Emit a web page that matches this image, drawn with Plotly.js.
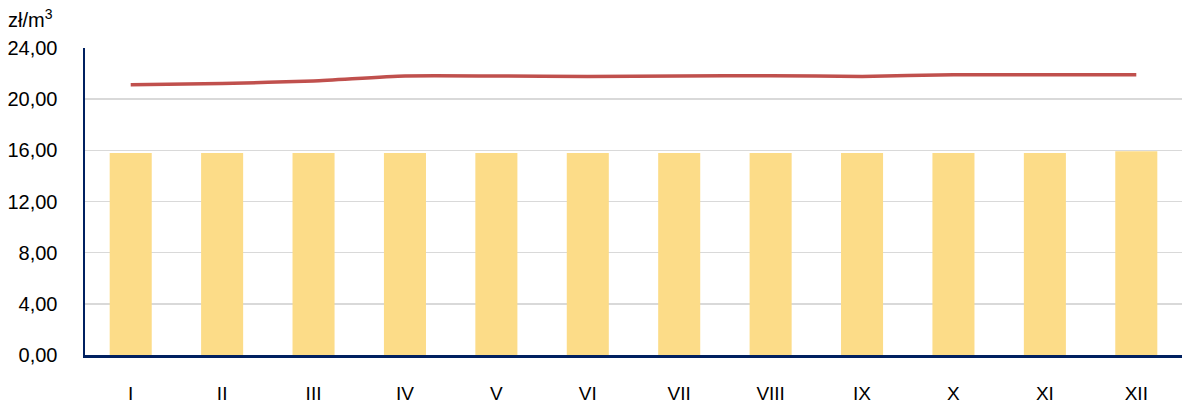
<!DOCTYPE html>
<html>
<head>
<meta charset="utf-8">
<script src="https://cdn.plot.ly/plotly-3.0.1.min.js"></script>
<style>html,body{margin:0;padding:0;background:#fff}#chart{width:1189px;height:407px}</style>
</head>
<body>
<div id="chart"></div>
<script>
const months = ["I","II","III","IV","V","VI","VII","VIII","IX","X","XI","XII"];
const barValues = [15.79,15.79,15.79,15.79,15.79,15.79,15.79,15.79,15.79,15.79,15.79,15.93];
const lineValues = [21.13,21.23,21.42,21.81,21.81,21.78,21.81,21.84,21.78,21.91,21.91,21.91];
const yTicks = [0,4,8,12,16,20,24];
const unitLabel = "zł/m<sup>3</sup>";

const fontFamily = "Liberation Sans, Arial, sans-serif";

const traces = [
  {type:"bar", x:months, y:barValues, marker:{color:"#fcdc88"}, hoverinfo:"skip", showlegend:false},
  {type:"scatter", mode:"lines", x:months, y:lineValues, line:{color:"#c0504d", width:3.5, shape:"spline", smoothing:0.6}, showlegend:false}
];

const layout = {
  width:1189, height:407,
  margin:{l:85, r:7, t:48, b:52},
  paper_bgcolor:"#ffffff", plot_bgcolor:"#ffffff",
  separators:",.",
  bargap:0.54,
  font:{family:fontFamily, size:19, color:"#000"},
  xaxis:{
    type:"category", showline:true, linecolor:"#002060", linewidth:2.5,
    showgrid:false, ticks:"", ticklabelstandoff:20,
    tickfont:{family:fontFamily, size:19, color:"#000"}
  },
  yaxis:{
    range:[0,24], tickvals:yTicks, tickformat:".2f",
    showline:true, linecolor:"#002060", linewidth:2.5,
    showgrid:true, gridcolor:"#d9d9d9", gridwidth:1.5,
    zeroline:false, ticks:"", ticklabelstandoff:21,
    tickfont:{family:fontFamily, size:20, color:"#000"}
  },
  annotations:[{
    text:unitLabel, xref:"paper", yref:"paper", x:-0.072, y:1.0, yshift:30,
    xanchor:"left", yanchor:"middle", showarrow:false,
    font:{family:fontFamily, size:20, color:"#000"}
  }]
};

Plotly.newPlot("chart", traces, layout, {displayModeBar:false, staticPlot:true});
</script>
</body>
</html>
